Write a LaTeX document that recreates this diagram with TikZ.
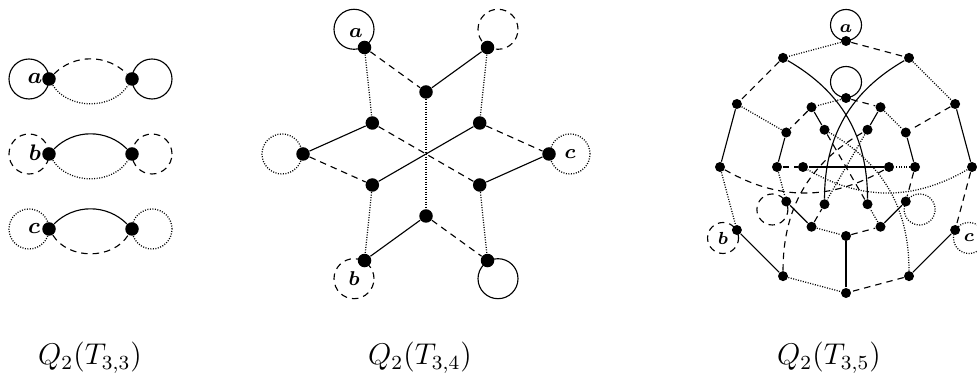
\documentclass[tikz,border=0pt]{standalone}
\usepackage{amsmath}
\usepackage{tikz}
\usetikzlibrary{calc}
\tikzset{
  vtx/.style={circle, fill=black, inner sep=0pt, minimum size=5.4pt},
  svtx/.style={vtx, minimum size=4pt},
  solidE/.style={line width=0.45pt},
  dashE/.style={line width=0.45pt, dash pattern=on 2.6pt off 2pt},
  dotE/.style={line width=0.5pt, dash pattern=on 0.4pt off 0.6pt},
  capt/.style={anchor=base, font=\large},
  lblA/.style={font=\small},
  lblB/.style={font=\footnotesize},
  lblC/.style={font=\scriptsize}
}

\begin{document}
\begin{tikzpicture}[x=0.4pt, y=0.4pt]
  \useasboundingbox (0,0) rectangle (977,385);

  % Q2(T33)
  \node[vtx] (a1) at (49,306) {};
  \node[vtx] (a2) at (132,306) {};
  \node[vtx] (b1) at (49,231) {};
  \node[vtx] (b2) at (132,231) {};
  \node[vtx] (c1) at (49,156) {};
  \node[vtx] (c2) at (132,156) {};
  \draw[dashE] (a1) to[bend left=45] (a2);
  \draw[dotE] (a1) to[bend right=58] (a2);
  \draw[solidE] (a1) ++(180:20) circle[radius=20];
  \draw[solidE] (a2) ++(0:20) circle[radius=20];
  \draw[solidE] (b1) to[bend left=45] (b2);
  \draw[dotE] (b1) to[bend right=58] (b2);
  \draw[dashE] (b1) ++(180:20) circle[radius=20];
  \draw[dashE] (b2) ++(0:20) circle[radius=20];
  \draw[solidE] (c1) to[bend left=45] (c2);
  \draw[dashE] (c1) to[bend right=58] (c2);
  \draw[dotE] (c1) ++(180:20) circle[radius=20];
  \draw[dotE] (c2) ++(0:20) circle[radius=20];
  \node[lblA] at (35,306) {$\boldsymbol{a}$};
  \node[lblA] at (35,232) {$\boldsymbol{b}$};
  \node[lblA] at (34,156) {$\boldsymbol{c}$};
  \node[capt] (cap1) at (90,20) {$Q_2(T_{3,3})$};

  % Q2(T34)
  \begin{scope}[shift={(426,231)}]
    \foreach \t in {0,60,...,300} \node[vtx] (p\t) at (\t:123) {};
    \foreach \t in {30,90,...,330} \node[vtx] (q\t) at (\t:62) {};
    \draw[solidE] (p120) ++(120:21) circle[radius=20];
    \draw[dashE] (p60) ++(60:21) circle[radius=20];
    \draw[dotE] (p180) ++(180:21) circle[radius=20];
    \draw[dotE] (p0) ++(0:21) circle[radius=20];
    \draw[dashE] (p240) ++(240:21) circle[radius=20];
    \draw[solidE] (p300) ++(300:21) circle[radius=20];
    \draw[dashE] (p120) -- (q90);
    \draw[dotE] (p120) -- (q150);
    \draw[solidE] (p60) -- (q90);
    \draw[dotE] (p60) -- (q30);
    \draw[dotE] (q90) -- (q270);
    \draw[solidE] (q150) -- (p180);
    \draw[dashE] (q150) -- (q330);
    \draw[dashE] (q30) -- (p0);
    \draw[solidE] (q30) -- (q210);
    \draw[dashE] (p180) -- (q210);
    \draw[solidE] (p0) -- (q330);
    \draw[dotE] (q210) -- (p240);
    \draw[dotE] (q330) -- (p300);
    \draw[solidE] (q270) -- (p240);
    \draw[dashE] (q270) -- (p300);
    \node[lblB] at ($(p120)+(120:17)$) {$\boldsymbol{a}$};
    \node[lblB] at ($(p240)+(240:21)$) {$\boldsymbol{b}$};
    \node[lblB] at ($(p0)+(0:21)$) {$\boldsymbol{c}$};
  \end{scope}
  \node[capt] (cap2) at (420,20) {$Q_2(T_{3,4})$};

  % Q2(T35)
  \begin{scope}[shift={(846,218)}]
    \foreach \t in {0,30,...,330} \node[svtx] (o\t) at (\t:126) {};
    \foreach \t in {0,30,...,330} \node[svtx] (m\t) at (\t:69) {};
    \foreach \t in {0,60,...,300} \node[svtx] (i\t) at (\t:43) {};
    % loops
    \draw[solidE] (o90) ++(90:16) circle[radius=15.5];
    \draw[solidE] (m90) ++(90:16) circle[radius=15.5];
    \draw[dashE] (o210) ++(210:16) circle[radius=15.5];
    \draw[dashE] (m210) ++(210:16) circle[radius=15.5];
    \draw[dotE] (o330) ++(330:16) circle[radius=15.5];
    \draw[dotE] (m330) ++(330:16) circle[radius=15.5];
    % outer ring
    \draw[dotE] (o90) -- (o120);
    \draw[dashE] (o90) -- (o60);
    \draw[dashE] (o120) -- (o150);
    \draw[dotE] (o60) -- (o30);
    \draw[solidE] (o150) -- (o180);
    \draw[solidE] (o30) -- (o0);
    \draw[dotE] (o180) -- (o210);
    \draw[dashE] (o0) -- (o330);
    \draw[solidE] (o210) -- (o240);
    \draw[solidE] (o330) -- (o300);
    \draw[dotE] (o240) -- (o270);
    \draw[dashE] (o300) -- (o270);
    \draw[dotE] (o150) -- (m150);
    \draw[dashE] (o30) -- (m30);
    \draw[solidE] (o270) -- (m270);
    % long arcs
    \draw[solidE] (o120) to[bend left=30] (i300);
    \draw[solidE] (o60) to[bend right=30] (i240);
    \draw[dashE] (o180) to[bend right=30] (i0);
    \draw[dotE] (o0) to[bend left=30] (i180);
    \draw[dashE] (o240) to[bend left=30] (i60);
    \draw[dotE] (o300) to[bend right=30] (i120);
    % middle ring
    \draw[dotE] (m90) -- (m120);
    \draw[dashE] (m90) -- (m60);
    \draw[dashE] (m120) -- (m150);
    \draw[dotE] (m60) -- (m30);
    \draw[solidE] (m150) -- (m180);
    \draw[solidE] (m30) -- (m0);
    \draw[dotE] (m180) -- (m210);
    \draw[dashE] (m0) -- (m330);
    \draw[solidE] (m210) -- (m240);
    \draw[dotE] (m240) -- (m270);
    \draw[dashE] (m270) -- (m300);
    \draw[solidE] (m300) -- (m330);
    \draw[solidE] (m120) -- (i120);
    \draw[solidE] (m60) -- (i60);
    \draw[dotE] (m0) -- (i0);
    \draw[dashE] (m180) -- (i180);
    \draw[dashE] (m240) -- (i240);
    \draw[dotE] (m300) -- (i300);
    % inner
    \draw[solidE] (i0) -- (i180);
    \draw[dashE] (i120) -- (i300);
    \draw[dotE] (i60) -- (i240);
    \node[lblC] at ($(o90)+(90:12)$) {$\boldsymbol{a}$};
    \node[lblC] at ($(o210)+(210:16)$) {$\boldsymbol{b}$};
    \node[lblC] at ($(o330)+(330:16)$) {$\boldsymbol{c}$};
  \end{scope}
  \node[capt] (cap3) at (829,20) {$Q_2(T_{3,5})$};
\end{tikzpicture}
\end{document}
